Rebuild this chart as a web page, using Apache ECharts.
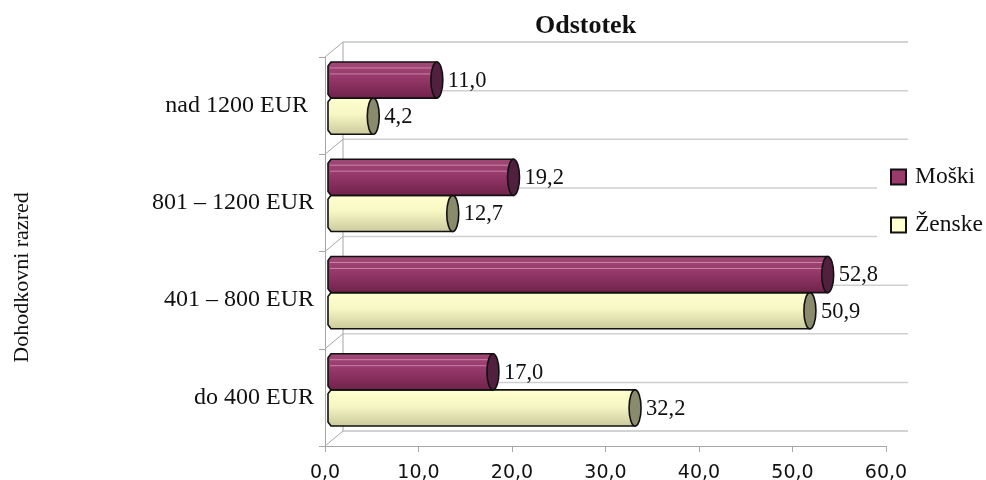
<!DOCTYPE html>
<html>
<head>
<meta charset="utf-8">
<script src="https://cdn.jsdelivr.net/npm/echarts@6/dist/echarts.min.js"></script>
<style>
    html, body { margin: 0; padding: 0; background: #fff; }
    #main { width: 986px; height: 480px; }
</style>
</head>
<body>
<div id="main"></div>
<script>
    var categories = ['do 400 EUR', '401 – 800 EUR', '801 – 1200 EUR', 'nad 1200 EUR '];
    var moski = [17.0, 52.8, 19.2, 11.0];
    var zenske = [32.2, 50.9, 12.7, 4.2];

    var serif = '"Liberation Serif", serif';
    var DX = 18, DY = -15;

    function fmt(v) {
        return v.toFixed(1).replace('.', ',');
    }

    function shade(stops) {
        return new echarts.graphic.LinearGradient(0, 0, 0, 1, stops);
    }

    // back wall, side wall and floor lines, one set per category
    function renderWall(params, api) {
        var c = api.coord([0, api.value(0)]);
        var r = api.coord([60, api.value(0)]);
        var h = api.size([0, 1])[1];
        var style = { stroke: '#a6a6a6', lineWidth: 1, fill: null };
        var soft = { stroke: '#cfcfcf', lineWidth: 1.5, fill: null };
        var x0 = c[0] + DX, x1 = r[0] + 22;
        var top = c[1] - h / 2, mid = c[1], bot = c[1] + h / 2;
        var kids = [
            { type: 'line', shape: { x1: x0, y1: top + DY, x2: x1, y2: top + DY }, style: params.dataIndex === 3 ? style : soft },
            { type: 'line', shape: { x1: x0, y1: mid + DY, x2: x1, y2: mid + DY }, style: soft },
            { type: 'line', shape: { x1: x0, y1: top + DY, x2: x0, y2: bot + DY }, style: style },
            { type: 'line', shape: { x1: c[0], y1: top, x2: x0, y2: top + DY }, style: style }
        ];
        if (params.dataIndex === 0) {
            kids.push({ type: 'line', shape: { x1: x0, y1: bot + DY, x2: x1, y2: bot + DY }, style: style });
            kids.push({ type: 'line', shape: { x1: c[0], y1: bot, x2: x0, y2: bot + DY }, style: style });
        }
        return { type: 'group', children: kids };
    }

    function cylinder(side, stops, capColor, stripes) {
        return function (params, api) {
            var val = api.value(0);
            var start = api.coord([0, api.value(1)]);
            var end = api.coord([val, api.value(1)]);
            var band = api.size([0, 1])[1];
            var h = band * 0.372;
            var cy = start[1] + DY / 2;
            var y0 = side < 0 ? cy - h : cy;
            var y1 = y0 + h;
            var x0 = start[0] + 9, x1 = end[0] + 9;
            var edge = { stroke: '#111', lineWidth: 1.6 };
            var body = [[x0 - 3, y0], [x1, y0], [x1, y1], [x0 - 3, y1], [x0 - 6, y1 - 4], [x0 - 6, y0 + 4]];
            var kids = [{
                type: 'polygon',
                shape: { points: body },
                style: { fill: shade(stops), stroke: edge.stroke, lineWidth: edge.lineWidth }
            }];
            for (var i = 0; i < stripes.length; i++) {
                kids.push({
                    type: 'line',
                    shape: { x1: x0 - 4, y1: y0 + stripes[i], x2: x1 - 4, y2: y0 + stripes[i] },
                    style: { stroke: 'rgba(255,220,235,0.45)', lineWidth: 1 }
                });
            }
            kids.push({
                type: 'ellipse',
                shape: { cx: x1, cy: (y0 + y1) / 2, rx: 6, ry: h / 2 },
                style: { fill: capColor, stroke: edge.stroke, lineWidth: edge.lineWidth }
            });
            kids.push({
                type: 'text',
                style: {
                    text: fmt(val),
                    x: x1 + 11,
                    y: (y0 + y1) / 2 + 1,
                    verticalAlign: 'middle',
                    fill: '#111',
                    font: '22.5px ' + serif
                }
            });
            return { type: 'group', children: kids };
        };
    }

    var moskiStops = [
        { offset: 0, color: '#a04a77' }, { offset: 0.4, color: '#983a6c' },
        { offset: 1, color: '#6f2149' }
    ];
    var zenskeStops = [
        { offset: 0, color: '#ffffd0' }, { offset: 0.45, color: '#f7f7c4' },
        { offset: 1, color: '#c8c89c' }
    ];

    var chart = echarts.init(document.getElementById('main'));
    chart.setOption({
        animation: false,
        backgroundColor: '#fff',
        title: {
            text: 'Odstotek',
            left: 535,
            top: 13,
            padding: 0,
            textStyle: { fontFamily: serif, fontWeight: 'bold', fontSize: 26, color: '#111' }
        },
        legend: {
            orient: 'vertical',
            left: 877,
            top: 155,
            width: 109,
            padding: [10, 0, 14, 13],
            itemGap: 24,
            itemWidth: 15,
            itemHeight: 15,
            backgroundColor: '#fff',
            icon: 'rect',
            textStyle: { fontFamily: serif, fontSize: 23.5, color: '#111', padding: [0, 0, 0, 4] },
            data: ['Moški', 'Ženske']
        },
        grid: { left: 325, right: 100, top: 57, bottom: 34, outerBoundsMode: 'none' },
        xAxis: {
            type: 'value',
            min: 0,
            max: 60,
            interval: 10,
            splitLine: { show: false },
            axisLine: { show: true, lineStyle: { color: '#a6a6a6' } },
            axisTick: { show: true, length: 6, lineStyle: { color: '#a6a6a6' } },
            axisLabel: {
                color: '#111',
                fontFamily: '"DejaVu Sans", sans-serif',
                fontSize: 19,
                margin: 18,
                formatter: function (v) { return fmt(v); }
            }
        },
        yAxis: {
            type: 'category',
            data: categories,
            axisLine: { show: true, lineStyle: { color: '#a6a6a6' } },
            axisTick: { show: true, length: 6, lineStyle: { color: '#a6a6a6' } },
            axisLabel: { color: '#111', fontFamily: serif, fontSize: 24, margin: 11, padding: [4, 0, 0, 0] }
        },
        graphic: [{
            type: 'text',
            x: 22,
            y: 277.5,
            rotation: Math.PI / 2,
            style: {
                text: 'Dohodkovni razred',
                align: 'center',
                verticalAlign: 'middle',
                fill: '#111',
                font: '22px ' + serif
            }
        }],
        series: [
            {
                name: 'wall',
                type: 'custom',
                silent: true,
                z: 1,
                renderItem: renderWall,
                encode: { y: 0 },
                data: categories.map(function (c, i) { return [i]; })
            },
            {
                name: 'Moški',
                type: 'custom',
                z: 3,
                renderItem: cylinder(-1, moskiStops, '#52203f', [6, 12]),
                itemStyle: { color: '#983a6c', borderColor: '#111', borderWidth: 1.5 },
                encode: { x: 0, y: 1 },
                data: moski.map(function (v, i) { return [v, i]; })
            },
            {
                name: 'Ženske',
                type: 'custom',
                z: 2,
                renderItem: cylinder(1, zenskeStops, '#8a8a6c', []),
                itemStyle: { color: '#ffffd0', borderColor: '#111', borderWidth: 1.5 },
                encode: { x: 0, y: 1 },
                data: zenske.map(function (v, i) { return [v, i]; })
            }
        ]
    });
</script>
</body>
</html>
